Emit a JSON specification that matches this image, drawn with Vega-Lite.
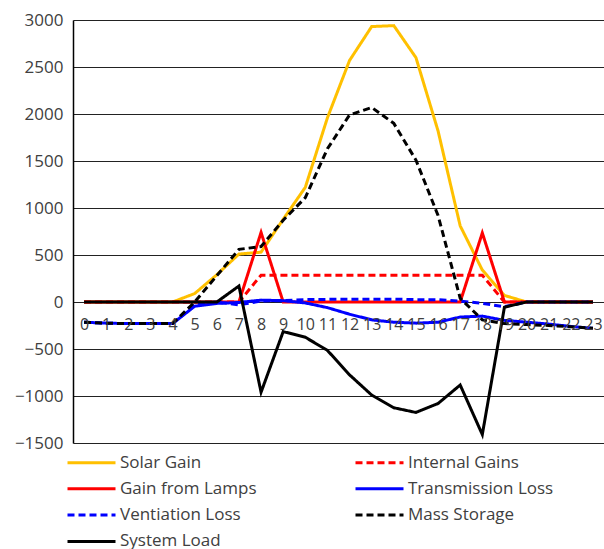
{
  "$schema": "https://vega.github.io/schema/vega-lite/v6.json",
  "autosize": {"type": "none"},
  "padding": {"left": 73, "top": 20, "right": 0, "bottom": 106},
  "width": 531,
  "height": 423,
  "background": "white",
  "config": {"view": {"stroke": null}, "font": "Open Sans"},
  "datasets": {
    "rows": [
      {"hour":0,"Solar Gain":0,"Internal Gains":0,"Gain from Lamps":0,"Transmission Loss":-215,"Ventiation Loss":-215,"Mass Storage":-215,"System Load":0},
      {"hour":1,"Solar Gain":0,"Internal Gains":0,"Gain from Lamps":0,"Transmission Loss":-225,"Ventiation Loss":-225,"Mass Storage":-225,"System Load":0},
      {"hour":2,"Solar Gain":0,"Internal Gains":0,"Gain from Lamps":0,"Transmission Loss":-230,"Ventiation Loss":-230,"Mass Storage":-230,"System Load":0},
      {"hour":3,"Solar Gain":0,"Internal Gains":0,"Gain from Lamps":0,"Transmission Loss":-230,"Ventiation Loss":-230,"Mass Storage":-230,"System Load":0},
      {"hour":4,"Solar Gain":0,"Internal Gains":0,"Gain from Lamps":0,"Transmission Loss":-230,"Ventiation Loss":-230,"Mass Storage":-230,"System Load":0},
      {"hour":5,"Solar Gain":90,"Internal Gains":0,"Gain from Lamps":0,"Transmission Loss":-45,"Ventiation Loss":-30,"Mass Storage":0,"System Load":0},
      {"hour":6,"Solar Gain":290,"Internal Gains":0,"Gain from Lamps":0,"Transmission Loss":-15,"Ventiation Loss":0,"Mass Storage":280,"System Load":0},
      {"hour":7,"Solar Gain":510,"Internal Gains":0,"Gain from Lamps":0,"Transmission Loss":-5,"Ventiation Loss":-30,"Mass Storage":560,"System Load":170},
      {"hour":8,"Solar Gain":530,"Internal Gains":285,"Gain from Lamps":740,"Transmission Loss":20,"Ventiation Loss":10,"Mass Storage":590,"System Load":-960},
      {"hour":9,"Solar Gain":880,"Internal Gains":285,"Gain from Lamps":0,"Transmission Loss":14,"Ventiation Loss":15,"Mass Storage":870,"System Load":-315},
      {"hour":10,"Solar Gain":1220,"Internal Gains":285,"Gain from Lamps":0,"Transmission Loss":-10,"Ventiation Loss":25,"Mass Storage":1110,"System Load":-375},
      {"hour":11,"Solar Gain":1960,"Internal Gains":285,"Gain from Lamps":0,"Transmission Loss":-60,"Ventiation Loss":28,"Mass Storage":1630,"System Load":-515},
      {"hour":12,"Solar Gain":2570,"Internal Gains":285,"Gain from Lamps":0,"Transmission Loss":-130,"Ventiation Loss":30,"Mass Storage":1990,"System Load":-775},
      {"hour":13,"Solar Gain":2930,"Internal Gains":285,"Gain from Lamps":0,"Transmission Loss":-190,"Ventiation Loss":30,"Mass Storage":2070,"System Load":-990},
      {"hour":14,"Solar Gain":2940,"Internal Gains":285,"Gain from Lamps":0,"Transmission Loss":-215,"Ventiation Loss":30,"Mass Storage":1900,"System Load":-1125},
      {"hour":15,"Solar Gain":2600,"Internal Gains":285,"Gain from Lamps":0,"Transmission Loss":-225,"Ventiation Loss":25,"Mass Storage":1510,"System Load":-1175},
      {"hour":16,"Solar Gain":1820,"Internal Gains":285,"Gain from Lamps":0,"Transmission Loss":-215,"Ventiation Loss":25,"Mass Storage":920,"System Load":-1080},
      {"hour":17,"Solar Gain":810,"Internal Gains":285,"Gain from Lamps":0,"Transmission Loss":-160,"Ventiation Loss":10,"Mass Storage":40,"System Load":-883},
      {"hour":18,"Solar Gain":340,"Internal Gains":285,"Gain from Lamps":735,"Transmission Loss":-150,"Ventiation Loss":-15,"Mass Storage":-190,"System Load":-1410},
      {"hour":19,"Solar Gain":70,"Internal Gains":0,"Gain from Lamps":0,"Transmission Loss":-195,"Ventiation Loss":-50,"Mass Storage":-230,"System Load":-55},
      {"hour":20,"Solar Gain":0,"Internal Gains":0,"Gain from Lamps":0,"Transmission Loss":-215,"Ventiation Loss":0,"Mass Storage":-240,"System Load":0},
      {"hour":21,"Solar Gain":0,"Internal Gains":0,"Gain from Lamps":0,"Transmission Loss":-235,"Ventiation Loss":0,"Mass Storage":-250,"System Load":0},
      {"hour":22,"Solar Gain":0,"Internal Gains":0,"Gain from Lamps":0,"Transmission Loss":-260,"Ventiation Loss":0,"Mass Storage":-262,"System Load":0},
      {"hour":23,"Solar Gain":0,"Internal Gains":0,"Gain from Lamps":0,"Transmission Loss":-280,"Ventiation Loss":0,"Mass Storage":-278,"System Load":0}
    ]
  },
  "data": {"name": "rows"},
  "transform": [
    {"fold": ["Solar Gain","Internal Gains","Gain from Lamps","Transmission Loss","Ventiation Loss","Mass Storage","System Load"], "as": ["series","value"]}
  ],
  "encoding": {
    "x": {
      "field": "hour", "type": "quantitative",
      "scale": {"domain": [-0.5, 23.5], "nice": false, "zero": false},
      "axis": {
        "title": null, "values": [0,1,2,3,4,5,6,7,8,9,10,11,12,13,14,15,16,17,18,19,20,21,22,23],
        "format": "d", "offset": -141, "domain": false, "ticks": false, "grid": false,
        "labelFontSize": 16, "labelColor": "#404040", "labelPadding": 14,
        "labelOverlap": false, "labelBound": false, "labelFlush": false, "zindex": 1
      }
    },
    "y": {
      "field": "value", "type": "quantitative",
      "scale": {"domain": [-1500, 3000], "nice": false},
      "axis": {
        "title": null, "values": [-1500,-1000,-500,0,500,1000,1500,2000,2500,3000], "format": "d",
        "ticks": false, "domain": true, "domainColor": "#000000", "domainWidth": 1.5,
        "gridColor": "#222222", "gridWidth": 1, "gridOpacity": 1,
        "labelFontSize": 17, "labelColor": "#404040", "labelPadding": 10
      }
    },
    "order": {"field": "hour", "type": "quantitative"},
    "color": {
      "field": "series", "type": "nominal",
      "scale": {
        "domain": ["Solar Gain","Gain from Lamps","Ventiation Loss","System Load","Internal Gains","Transmission Loss","Mass Storage"],
        "range": ["#FFC000","#FF0000","#0000FF","#000000","#FF0000","#0000FF","#000000"]
      },
      "legend": {
        "title": null, "orient": "none", "legendX": -7, "legendY": 429, "columns": 2,
        "symbolType": "M-1,0H3", "symbolSize": 576, "symbolStrokeWidth": 3,
        "labelFontSize": 17, "labelColor": "#404040", "labelOffset": 27,
        "rowPadding": 4.3, "columnPadding": 92
      }
    },
    "strokeDash": {
      "field": "series", "type": "nominal",
      "scale": {
        "domain": ["Solar Gain","Gain from Lamps","Ventiation Loss","System Load","Internal Gains","Transmission Loss","Mass Storage"],
        "range": [[1,0],[1,0],[7,4],[1,0],[7,4],[1,0],[7,4]]
      },
      "legend": {
        "title": null, "orient": "none", "legendX": -7, "legendY": 429, "columns": 2,
        "symbolType": "M-1,0H3", "symbolSize": 576, "symbolStrokeWidth": 3,
        "labelFontSize": 17, "labelColor": "#404040", "labelOffset": 27,
        "rowPadding": 4.3, "columnPadding": 92
      }
    }
  },
  "layer": [
    {"transform": [{"filter": "datum.series === 'Solar Gain'"}], "mark": {"type": "line", "strokeWidth": 3}},
    {"transform": [{"filter": "datum.series === 'Internal Gains'"}], "mark": {"type": "line", "strokeWidth": 3}},
    {"transform": [{"filter": "datum.series === 'Gain from Lamps'"}], "mark": {"type": "line", "strokeWidth": 3}},
    {"transform": [{"filter": "datum.series === 'Transmission Loss'"}], "mark": {"type": "line", "strokeWidth": 3}},
    {"transform": [{"filter": "datum.series === 'Ventiation Loss'"}], "mark": {"type": "line", "strokeWidth": 3}},
    {"transform": [{"filter": "datum.series === 'Mass Storage'"}], "mark": {"type": "line", "strokeWidth": 3}},
    {"transform": [{"filter": "datum.series === 'System Load'"}], "mark": {"type": "line", "strokeWidth": 3}}
  ]
}
